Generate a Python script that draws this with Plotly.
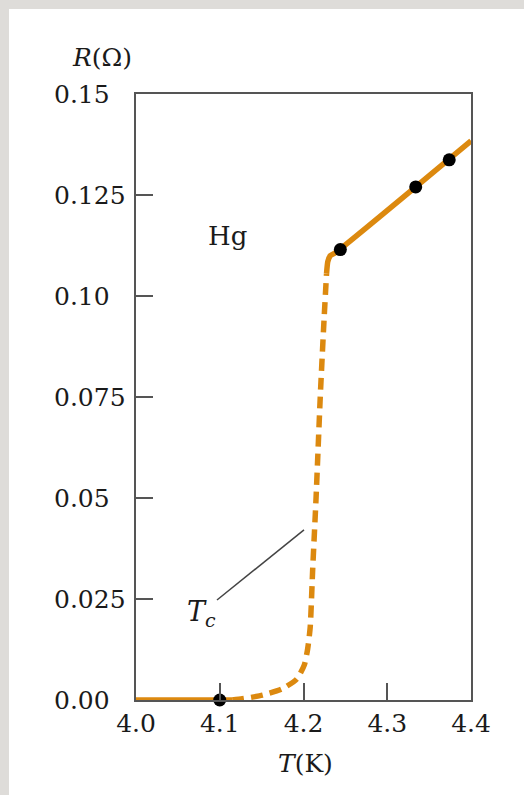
import plotly.graph_objects as go

# ---- data ----
T_flat = [4.0, 4.115]
R_flat = [0.0, 0.0]

T_dash = [4.115, 4.127, 4.151, 4.174, 4.192, 4.201, 4.205, 4.208, 4.211, 4.215, 4.220, 4.224, 4.2275]
R_dash = [0.0, 0.0003, 0.0012, 0.0027, 0.0052, 0.0087, 0.0127, 0.018, 0.0325, 0.050, 0.075, 0.092, 0.1055]

T_norm = [4.2275, 4.229, 4.232, 4.238, 4.4]
R_norm = [0.1055, 0.1085, 0.1100, 0.1107, 0.1384]

T_pts = [4.10, 4.244, 4.334, 4.374]
R_pts = [0.0, 0.1115, 0.1270, 0.1337]

x_ticks = [4.0, 4.1, 4.2, 4.3, 4.4]
x_ticktext = ["4.0", "4.1", "4.2", "4.3", "4.4"]
y_ticks = [0.0, 0.025, 0.05, 0.075, 0.10, 0.125, 0.15]
y_ticktext = ["0.00", "0.025", "0.05", "0.075", "0.10", "0.125", "0.15"]

ORANGE = "#DC890F"
BG = "#FEF0CD"
AXC = "#555555"
GREY = "#DEDCD9"
FONT = "DejaVu Serif"
TXT = "#1a1a1a"

fig = go.Figure()
fig.add_trace(go.Scatter(x=T_flat, y=R_flat, mode="lines",
                         line=dict(color=ORANGE, width=5.5), cliponaxis=False, hoverinfo="skip"))
fig.add_trace(go.Scatter(x=T_dash, y=R_dash, mode="lines",
                         line=dict(color=ORANGE, width=5.5, dash="12px,7px", shape="spline", smoothing=0.6),
                         cliponaxis=False, hoverinfo="skip"))
fig.add_trace(go.Scatter(x=T_norm, y=R_norm, mode="lines",
                         line=dict(color=ORANGE, width=5.5, shape="spline", smoothing=0.5),
                         cliponaxis=False, hoverinfo="skip"))
fig.add_trace(go.Scatter(x=T_pts, y=R_pts, mode="markers",
                         marker=dict(color="black", size=13), cliponaxis=False))

axis_common = dict(showline=True, linecolor=AXC, linewidth=1.5, mirror=True,
                   ticks="inside", ticklen=17, tickwidth=1.5, tickcolor=AXC,
                   showgrid=False, zeroline=False)

fig.update_xaxes(range=[4.0, 4.4], tickvals=x_ticks, ticktext=x_ticktext,
                 tickfont=dict(family=FONT, size=25, color=TXT), **axis_common)
fig.update_yaxes(range=[0.0, 0.15], tickvals=y_ticks, showticklabels=False, **axis_common)

annotations = []
for v, t in zip(y_ticks, y_ticktext):
    annotations.append(dict(xref="paper", yref="y", x=-0.2507, y=v, text=t, showarrow=False,
                            xanchor="left", yanchor="middle",
                            font=dict(family=FONT, size=25, color=TXT)))
annotations.append(dict(xref="paper", yref="paper", x=-0.1015, y=1.061, text="<i>R</i>(Ω)",
                        xanchor="center", yanchor="middle",
                        showarrow=False, font=dict(family=FONT, size=25, color=TXT)))
annotations.append(dict(xref="paper", yref="paper", x=0.5045, y=-0.1056, text="<i>T</i>(K)",
                        xanchor="center", yanchor="middle",
                        showarrow=False, font=dict(family=FONT, size=25, color=TXT)))
annotations.append(dict(xref="x", yref="y", x=4.1087, y=0.1148, text="Hg",
                        xanchor="center", yanchor="middle",
                        showarrow=False, font=dict(family=FONT, size=26, color=TXT)))
annotations.append(dict(xref="x", yref="y", x=4.078, y=0.0215,
                        text="<i>T</i><i><sub>c</sub></i>",
                        xanchor="center", yanchor="middle",
                        showarrow=False, font=dict(family=FONT, size=27, color=TXT)))

shapes = [
    dict(type="rect", xref="paper", yref="paper", x0=-0.3791, x1=1.2, y0=-0.2, y1=1.1403,
         fillcolor="white", line=dict(width=0), layer="below"),
    dict(type="line", xref="x", yref="y", x0=4.0967, y0=0.02475, x1=4.2006, y1=0.0421,
         line=dict(color="#444", width=1.5)),
]

fig.update_layout(width=524, height=795,
                  margin=dict(l=136, r=53, t=94, b=95),
                  paper_bgcolor=GREY, plot_bgcolor=BG,
                  showlegend=False, annotations=annotations, shapes=shapes)

fig.write_html("out.html", config={"displayModeBar": False},
               post_script="document.body.style.margin='0';document.body.style.background='%s';"
                           "document.body.style.overflow='hidden';" % GREY)
